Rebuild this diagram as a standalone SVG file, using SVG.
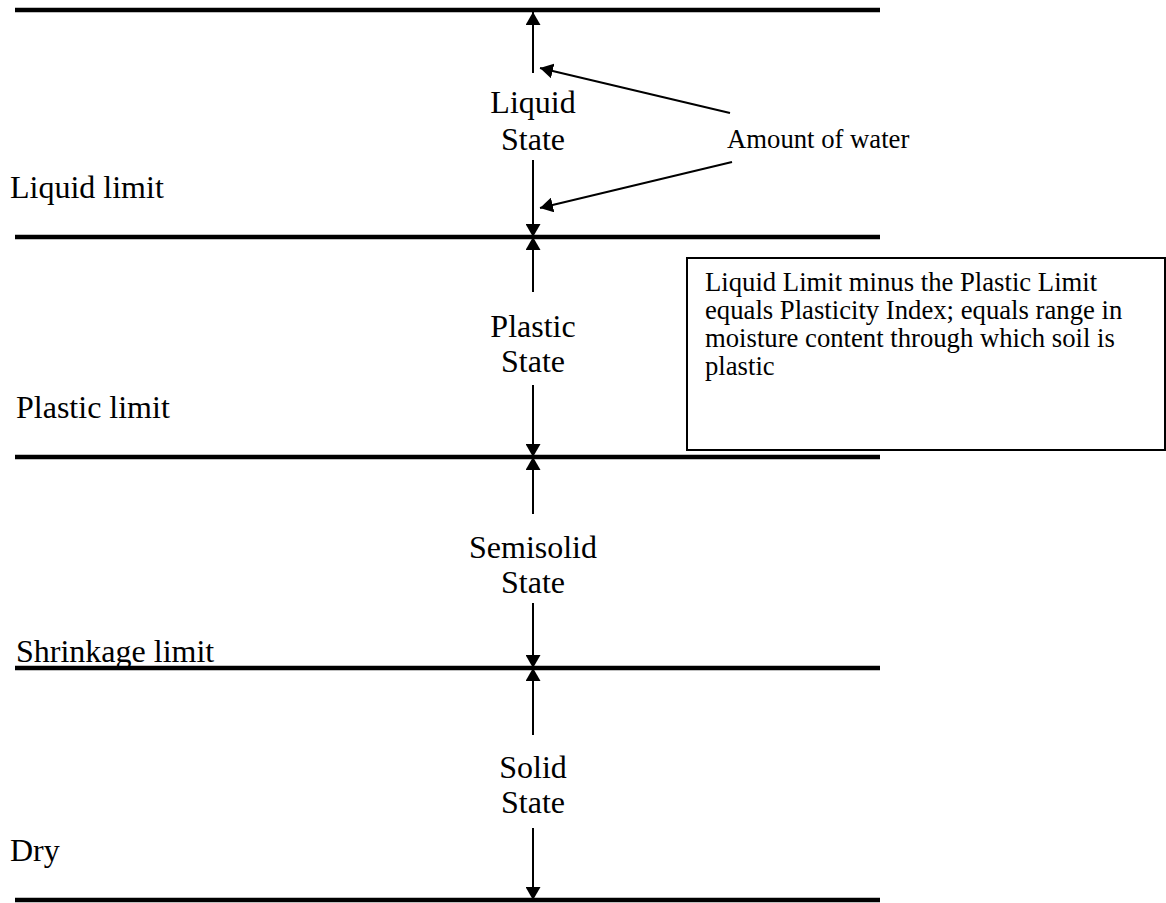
<svg xmlns="http://www.w3.org/2000/svg" width="1166" height="903" viewBox="0 0 1166 903">
<style>
.lbl{font-family:"Liberation Serif","Times New Roman",serif;font-size:32px;fill:#000}
.st{font-family:"Liberation Serif","Times New Roman",serif;font-size:32px;text-anchor:middle;fill:#000}
.note{font-family:"Liberation Serif","Times New Roman",serif;font-size:26.7px;fill:#000}
.lim{stroke:#000;stroke-width:4.5;fill:none}
.ar{stroke:#000;stroke-width:2;fill:none;marker-end:url(#ah)}
</style>
<defs>
<marker id="ah" viewBox="0 0 13 15" refX="13" refY="7.5" markerWidth="13" markerHeight="15" markerUnits="userSpaceOnUse" orient="auto">
<path d="M0,0 L13,7.5 L0,15 Z" fill="#000"/>
</marker>
</defs>
<rect width="1166" height="903" fill="#fff"/>
<g id="limits">
<line class="lim" x1="15" y1="10" x2="880" y2="10"/>
<line class="lim" x1="15" y1="237" x2="880" y2="237"/>
<line class="lim" x1="15" y1="457" x2="880" y2="457"/>
<line class="lim" x1="15" y1="668" x2="880" y2="668"/>
<line class="lim" x1="15" y1="900" x2="880" y2="900"/>
</g>
<g id="liquid-limit-label"><text class="lbl" x="10" y="198">Liquid limit</text></g>
<g id="plastic-limit-label"><text class="lbl" x="16" y="418">Plastic limit</text></g>
<g id="shrinkage-limit-label"><text class="lbl" x="16" y="662">Shrinkage limit</text></g>
<g id="dry-label"><text class="lbl" x="10" y="861">Dry</text></g>
<g id="liquid-state">
<text class="st" x="533" y="113">Liquid</text>
<text class="st" x="533" y="150">State</text>
</g>
<g id="plastic-state">
<text class="st" x="533" y="337">Plastic</text>
<text class="st" x="533" y="372">State</text>
</g>
<g id="semisolid-state">
<text class="st" x="533" y="558">Semisolid</text>
<text class="st" x="533" y="593">State</text>
</g>
<g id="solid-state">
<text class="st" x="533" y="778">Solid</text>
<text class="st" x="533" y="813">State</text>
</g>
<g id="water-label">
<text class="note" x="727" y="148">Amount of water</text>
</g>
<g id="pi-note">
<rect x="687" y="258" width="478" height="192" fill="#fff" stroke="#000" stroke-width="2"/>
<text class="note" x="705" y="291">Liquid Limit minus the Plastic Limit</text>
<text class="note" x="705" y="319">equals Plasticity Index; equals range in</text>
<text class="note" x="705" y="347">moisture content through which soil is</text>
<text class="note" x="705" y="375">plastic</text>
</g>
<g id="connectors">
<line class="ar" x1="533" y1="73" x2="533" y2="12"/>
<line class="ar" x1="533" y1="160" x2="533" y2="237"/>
<line class="ar" x1="533" y1="292" x2="533" y2="237"/>
<line class="ar" x1="533" y1="385" x2="533" y2="457"/>
<line class="ar" x1="533" y1="514" x2="533" y2="457"/>
<line class="ar" x1="533" y1="603" x2="533" y2="668"/>
<line class="ar" x1="533" y1="735" x2="533" y2="668"/>
<line class="ar" x1="533" y1="828" x2="533" y2="900"/>
<line class="ar" x1="730" y1="113" x2="540" y2="68"/>
<line class="ar" x1="732" y1="162" x2="540" y2="208"/>
</g>
</svg>
